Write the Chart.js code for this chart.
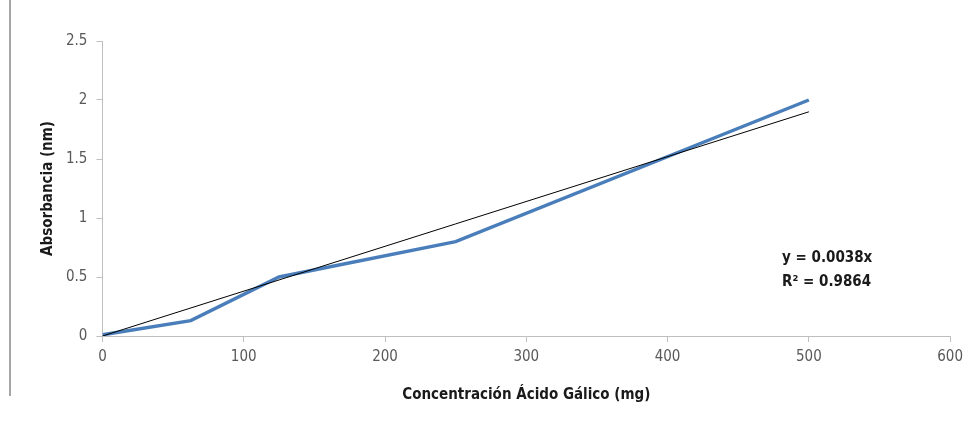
<!DOCTYPE html>
<html>
<head>
<meta charset="utf-8">
<script src="https://cdn.jsdelivr.net/npm/chart.js@4/dist/chart.umd.min.js"></script>
<style>
  html, body { margin: 0; padding: 0; background: #fff; }
  #wrap { position: relative; width: 969px; height: 424px; }
  #edge { position: absolute; left: 9px; top: 0; width: 2px; height: 396px; background: #a6a6a6; }
</style>
</head>
<body>
<div id="wrap">
  <div id="edge"></div>
  <canvas id="chart" width="969" height="424"></canvas>
</div>
<script>
// concentración (mg) vs absorbancia
const concentracion = [0, 62.5, 125, 250, 500];
const absorbancia = [0.01, 0.13, 0.5, 0.8, 2.0];
const pendiente = 0.0038;
const trendX = [0, 500];
const ecuacion = ["y = 0.0038x", "R\u00b2 = 0.9864"];
const xTicks = [0, 100, 200, 300, 400, 500, 600];
const yTicks = [0, 0.5, 1, 1.5, 2, 2.5];

const font = "'Liberation Sans Narrow', 'DejaVu Sans Condensed', 'Open Sans', sans-serif";

const labelPlugin = {
  id: "ecuacion",
  afterDraw(chart) {
    const { ctx, scales } = chart;
    const x = scales.x.getPixelForValue(481);
    const y = scales.y.getPixelForValue(0.66);
    ctx.save();
    ctx.font = "bold 15px " + font;
    ctx.fillStyle = "#1a1a1a";
    ctx.textAlign = "left";
    ctx.textBaseline = "middle";
    ctx.fillText(ecuacion[0], x, y);
    ctx.fillText(ecuacion[1], x, y + 24);
    ctx.restore();
  }
};

new Chart(document.getElementById("chart"), {
  type: "scatter",
  data: {
    datasets: [
      {
        label: "Absorbancia",
        data: concentracion.map((c, i) => ({ x: c, y: absorbancia[i] })),
        showLine: true,
        borderColor: "#4a7ebb",
        borderWidth: 3.5,
        pointRadius: 0,
        order: 2
      },
      {
        label: "Lineal",
        data: trendX.map((c) => ({ x: c, y: pendiente * c })),
        showLine: true,
        borderColor: "#000",
        borderWidth: 1,
        pointRadius: 0,
        order: 1
      }
    ]
  },
  options: {
    responsive: false,
    animation: false,
    layout: { padding: { left: 38, right: 9, top: 41, bottom: 20 } },
    plugins: { legend: { display: false }, tooltip: { enabled: false } },
    scales: {
      x: {
        type: "linear",
        min: 0,
        max: 600,
        afterBuildTicks: (axis) => { axis.ticks = xTicks.map((v) => ({ value: v })); },
        grid: { drawOnChartArea: false, color: "#bfbfbf", tickLength: 6 },
        border: { color: "#bfbfbf" },
        ticks: { color: "#595959", font: { family: font, size: 15 }, padding: 6, maxRotation: 0 },
        title: {
          display: true,
          text: "Concentración Ácido Gálico (mg)",
          color: "#1a1a1a",
          font: { family: font, size: 15, weight: "bold" },
          padding: { top: 14, bottom: 0 }
        }
      },
      y: {
        type: "linear",
        min: 0,
        max: 2.5,
        afterBuildTicks: (axis) => { axis.ticks = yTicks.map((v) => ({ value: v })); },
        grid: { drawOnChartArea: false, color: "#bfbfbf", tickLength: 6 },
        border: { color: "#bfbfbf" },
        ticks: {
          color: "#595959",
          font: { family: font, size: 15 },
          padding: 9,
          callback: (v) => String(v)
        },
        title: {
          display: true,
          text: "Absorbancia (nm)",
          color: "#1a1a1a",
          font: { family: font, size: 15, weight: "bold" },
          padding: { top: 1, bottom: 0 }
        }
      }
    }
  },
  plugins: [labelPlugin]
});
</script>
</body>
</html>
